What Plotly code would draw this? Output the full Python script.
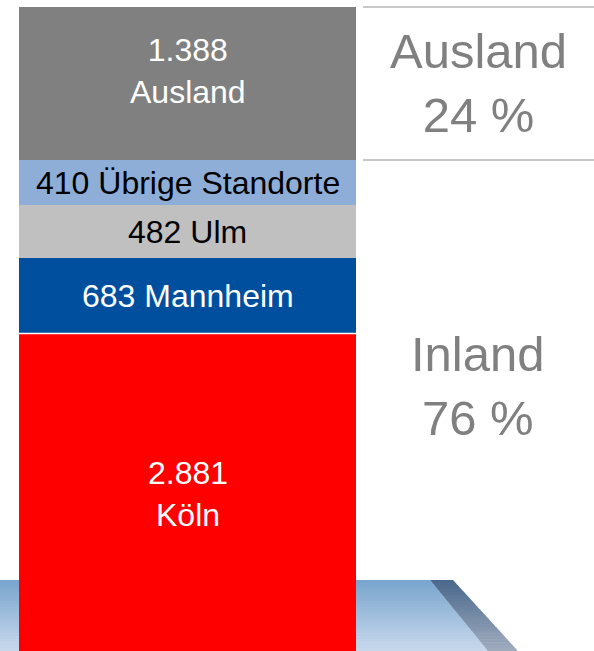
import plotly.graph_objects as go

# ---- data ----
standorte = ["Köln", "Mannheim", "Ulm", "Übrige Standorte", "Ausland"]
mitarbeiter = [2881, 683, 482, 410, 1388]
farben = ["#ff0000", "#004f9f", "#c0c0c0", "#8eaed8", "#808080"]
textfarben = ["#ffffff", "#ffffff", "#000000", "#000000", "#ffffff"]
label_tmpl = ["{v}<br>{n}", "{v} {n}", "{v} {n}", "{v} {n}", "{v}<br>{n}"]
label_shift = [-2, 0, 0, 0, 12]
gruppen = ["Inland", "Ausland"]
anteile = [76, 24]

FONT = "Liberation Sans, Arial, sans-serif"
W, H = 594, 651


def fmt(v):
    return f"{v:,}".replace(",", ".")


fig = go.Figure()
for n, v, c in zip(standorte, mitarbeiter, farben):
    fig.add_trace(go.Bar(x=[0], y=[v], name=n, marker=dict(color=c, line=dict(width=0)),
                         hoverinfo="name+y", showlegend=False))

# labels inside segments
base = 0
for n, v, tc, tmpl, sh in zip(standorte, mitarbeiter, textfarben, label_tmpl, label_shift):
    fig.add_annotation(x=0, y=base + v / 2, xref="x", yref="y", xanchor="center",
                       text=tmpl.format(v=fmt(v), n=n), showarrow=False,
                       font=dict(family=FONT, size=32, color=tc), yshift=sh)
    base += v

total = sum(mitarbeiter)
inland = sum(mitarbeiter[:4])

# separator between Köln and Mannheim
fig.add_shape(type="line", xref="x", yref="y", x0=-0.5, x1=0.5,
              y0=mitarbeiter[0], y1=mitarbeiter[0], line=dict(color="white", width=1.5))

# right-hand lines
for yv in [total, inland]:
    fig.add_shape(type="line", xref="paper", yref="y", x0=363 / W, x1=1, y0=yv, y1=yv,
                  line=dict(color="#c8c8c8", width=2))

# group annotations
fig.add_annotation(x=478 / W, xref="paper", y=inland + mitarbeiter[4] / 2, yref="y",
                   xanchor="center", yanchor="middle",
                   text=f"{gruppen[1]}<br>{anteile[1]} %", showarrow=False,
                   font=dict(family=FONT, size=49, color="#808080"))
fig.add_annotation(x=478 / W, xref="paper", y=inland / 2, yref="y", yshift=19,
                   xanchor="center", yanchor="middle",
                   text=f"{gruppen[0]}<br>{anteile[0]} %", showarrow=False,
                   font=dict(family=FONT, size=49, color="#808080"))


# decorative blue band at bottom with diagonal stripe
def lerp(a, b, t):
    return a + (b - a) * t


def mix(c1, c2, t):
    return "rgb({},{},{})".format(*[round(lerp(a, b, t)) for a, b in zip(c1, c2)])


band_top, band_bot = 580, 651
edge_top_l, edge_top_r = 430, 453
edge_bot_l, edge_bot_r = 488, 518
band_c1, band_c2 = (120, 164, 205), (200, 216, 237)
str_c1, str_c2 = (72, 104, 140), (160, 172, 190)
steps = 24
for i in range(steps):
    py0 = band_top + (band_bot - band_top) * i / steps
    py1 = band_top + (band_bot - band_top) * (i + 1) / steps + 0.6
    t0 = (py0 - band_top) / (band_bot - band_top)
    t1 = min(1, (py1 - band_top) / (band_bot - band_top))
    tm = (t0 + t1) / 2
    xl0, xl1 = lerp(edge_top_l, edge_bot_l, t0), lerp(edge_top_l, edge_bot_l, t1)
    xr0, xr1 = lerp(edge_top_r, edge_bot_r, t0), lerp(edge_top_r, edge_bot_r, t1)
    Y0, Y1 = 1 - py0 / H, 1 - py1 / H
    band_path = f"M0,{Y0} L{xl0 / W},{Y0} L{xl1 / W},{Y1} L0,{Y1} Z"
    str_path = (f"M{xl0 / W},{Y0} L{xr0 / W},{Y0} L{xr1 / W},{Y1} L{xl1 / W},{Y1} Z")
    fig.add_shape(type="path", xref="paper", yref="paper", path=band_path,
                  fillcolor=mix(band_c1, band_c2, tm), line=dict(width=0), layer="below")
    fig.add_shape(type="path", xref="paper", yref="paper", path=str_path,
                  fillcolor=mix(str_c1, str_c2, tm), line=dict(width=0), layer="below")

fig.update_layout(
    width=W, height=H,
    margin=dict(l=0, r=0, t=0, b=0),
    barmode="stack", bargap=0,
    paper_bgcolor="white", plot_bgcolor="rgba(0,0,0,0)",
    xaxis=dict(domain=[19 / W, 356 / W], range=[-0.5, 0.5], visible=False, fixedrange=True),
    yaxis=dict(domain=[0, 1], range=[0, 5907], visible=False, fixedrange=True),
    showlegend=False,
)

fig.write_html("out.html", config={"displayModeBar": False},
               post_script="document.body.style.margin='0';document.body.style.overflow='hidden';")
